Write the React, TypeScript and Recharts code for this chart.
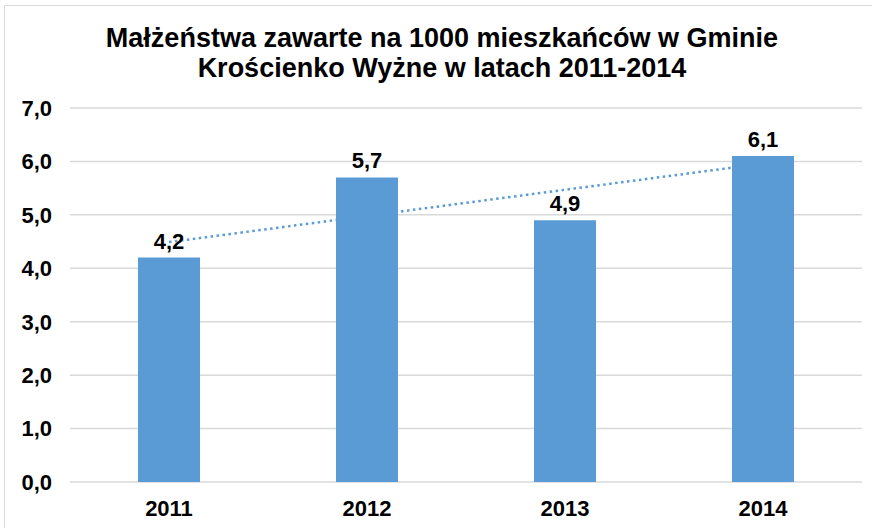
import { ComposedChart, Bar, Line, XAxis, YAxis, CartesianGrid, LabelList } from "recharts"

const years = ["2011", "2012", "2013", "2014"]
const marriages = [4.2, 5.7, 4.9, 6.1]
const yTicks = [0, 1, 2, 3, 4, 5, 6, 7]
const titleLines = [
    "Małżeństwa zawarte na 1000 mieszkańców w Gminie",
    "Krościenko Wyżne w latach 2011-2014",
]

// linear trendline (least squares), like the spreadsheet one
const n = marriages.length
const meanX = (n + 1) / 2
const meanY = marriages.reduce((a, b) => a + b, 0) / n
let sxy = 0
let sxx = 0
marriages.forEach((v, i) => {
    sxy += (i + 1 - meanX) * (v - meanY)
    sxx += (i + 1 - meanX) ** 2
})
const slope = sxy / sxx
const intercept = meanY - slope * meanX

const data = years.map((year, i) => ({
    year,
    value: marriages[i],
    trend: intercept + slope * (i + 1),
}))

const fmt = (v: number) => v.toFixed(1).replace(".", ",")
const font = "'Liberation Sans', Arial, sans-serif"
const blue = "#5B9BD5"

export default function App() {
    return (
        <div style={{ position: "absolute", left: 0, top: 0, width: 872, height: 528, background: "#fff", fontFamily: font }}>
            <svg width={872} height={528} style={{ position: "absolute", left: 0, top: 0 }}>
                <line x1={4.5} y1={5.5} x2={872} y2={5.5} stroke="#d9d9d9" />
                <line x1={4.5} y1={5.5} x2={4.5} y2={528} stroke="#d9d9d9" />
                {titleLines.map((t, i) => (
                    <text key={i} x={442} y={47 + i * 30} textAnchor="middle" fontSize={27} fontWeight="bold" fill="#000">
                        {t}
                    </text>
                ))}
            </svg>
            <div style={{ position: "absolute", left: 0, top: 0 }}>
                <ComposedChart width={872} height={528} data={data} margin={{ top: 108, right: 10, bottom: 0, left: 0 }}>
                    <CartesianGrid vertical={false} stroke="#d9d9d9" strokeWidth={1.5} />
                    <XAxis
                        dataKey="year"
                        axisLine={false}
                        tickLine={false}
                        height={46}
                        tickSize={0}
                        tickMargin={18}
                        tick={{ fontSize: 22, fontWeight: "bold", fill: "#000", fontFamily: font }}
                    />
                    <YAxis
                        domain={[0, 7]}
                        ticks={yTicks}
                        width={70}
                        axisLine={false}
                        tickLine={false}
                        tickSize={0}
                        tickMargin={18}
                        tickFormatter={fmt}
                        tick={{ fontSize: 22, fontWeight: "bold", fill: "#000", fontFamily: font }}
                    />
                    <Bar dataKey="value" fill={blue} barSize={62} isAnimationActive={false}>
                        <LabelList
                            dataKey="value"
                            position="top"
                            offset={9}
                            formatter={(v: any) => fmt(Number(v))}
                            style={{ fontSize: 22, fontWeight: "bold", fill: "#000", fontFamily: font }}
                        />
                    </Bar>
                    <Line
                        dataKey="trend"
                        stroke={blue}
                        strokeWidth={2.5}
                        strokeDasharray="2.5 3.5"
                        dot={false}
                        activeDot={false}
                        isAnimationActive={false}
                    />
                </ComposedChart>
            </div>
        </div>
    )
}
